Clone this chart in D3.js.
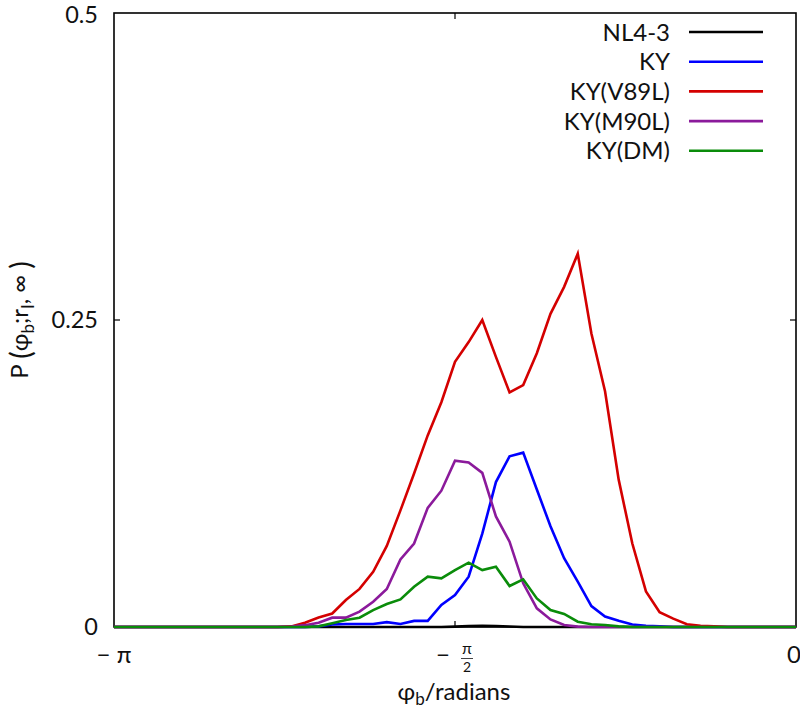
<!DOCTYPE html>
<html>
<head>
<meta charset="utf-8">
<script src="https://cdn.jsdelivr.net/npm/d3@7"></script>
<style>
  html, body { margin: 0; padding: 0; background: #fff; }
  svg { display: block; }
  text { font-family: Lato, "Open Sans", sans-serif; fill: #111; }
</style>
</head>
<body>
<svg id="chart" width="800" height="714"></svg>
<script>
// ---- data ----
// bin positions, in units of pi (phi_b / pi)
const phiOverPi = [-1.00,-0.98,-0.96,-0.94,-0.92,-0.90,-0.88,-0.86,-0.84,-0.82,
                   -0.80,-0.78,-0.76,-0.74,-0.72,-0.70,-0.68,-0.66,-0.64,-0.62,
                   -0.60,-0.58,-0.56,-0.54,-0.52,-0.50,-0.48,-0.46,-0.44,-0.42,
                   -0.40,-0.38,-0.36,-0.34,-0.32,-0.30,-0.28,-0.26,-0.24,-0.22,
                   -0.20,-0.18,-0.16,-0.14,-0.12,-0.10,-0.08,-0.06,-0.04,-0.02, 0.00];

const seriesNames = ["NL4-3", "KY", "KY(V89L)", "KY(M90L)", "KY(DM)"];

const valNL43 = [0,0,0,0,0,0,0,0,0,0, 0,0,0,0,0,0,0,0,0,0,
                 0,0,0,0,0,0.0003,0.0008,0.001,0.0008,0.0004,
                 0,0,0,0,0,0,0,0,0,0, 0,0,0,0,0,0,0,0,0,0,0];

const valKY = [0,0,0,0,0,0,0,0,0,0, 0,0,0,0,0,0.0005,0.002,0.0025,0.0025,0.0025,
               0.004,0.0025,0.005,0.005,0.018,0.026,0.041,0.076,0.118,0.139,
               0.142,0.112,0.082,0.056,0.037,0.017,0.0085,0.005,0.002,0.001,
               0.0005,0,0,0,0,0,0,0,0,0,0];

const valV89L = [0,0,0,0,0,0,0,0,0,0, 0,0,0,0.0005,0.0035,0.0078,0.011,0.022,0.031,0.045,
                 0.066,0.095,0.125,0.156,0.183,0.216,0.232,0.250,0.220,0.191,
                 0.197,0.223,0.255,0.277,0.304,0.239,0.192,0.120,0.068,0.029,
                 0.012,0.0068,0.0023,0.001,0.0005,0,0,0,0,0,0];

const valM90L = [0,0,0,0,0,0,0,0,0,0, 0,0,0,0.0003,0.0015,0.0035,0.0076,0.0076,0.0125,0.0206,
                 0.031,0.055,0.068,0.097,0.111,0.1355,0.134,0.1255,0.090,0.0695,
                 0.0356,0.0152,0.0062,0.0016,0.0003,0,0,0,0,0,
                 0,0,0,0,0,0,0,0,0,0,0];

const valDM = [0,0,0,0,0,0,0,0,0,0, 0,0,0,0,0,0.0005,0.003,0.0057,0.0076,0.0138,
               0.0187,0.0225,0.0328,0.041,0.0396,0.0464,0.0524,0.0464,0.049,0.0334,
               0.0388,0.0233,0.0138,0.0106,0.0043,0.0022,0.0016,0.0005,0,0,
               0,0,0,0,0,0,0,0,0,0,0];

const seriesValues = [valNL43, valKY, valV89L, valM90L, valDM];
const seriesColors = ["#000000", "#0000ff", "#d40000", "#8b1a9b", "#0a8c0a"];

const yTickValues = [0, 0.25, 0.5];
const yTickLabels = ["0", "0.25", "0.5"];
const xTickValues = [-Math.PI, -Math.PI / 2, 0];

// ---- layout ----
const svg = d3.select("#chart");
const L = 114, R = 796, T = 13, B = 627;

const x = d3.scaleLinear().domain([-Math.PI, 0]).range([L, R]);
const y = d3.scaleLinear().domain([0, 0.5]).range([B, T]);

// frame
svg.append("rect")
  .attr("x", L).attr("y", T).attr("width", R - L).attr("height", B - T)
  .attr("fill", "none").attr("stroke", "#000").attr("stroke-width", 1.6);

// ticks (inward, mirrored)
const tickLen = 6;
const g = svg.append("g");
[0.25].forEach(v => {
  g.append("line").attr("x1", L).attr("x2", L + tickLen).attr("y1", y(v)).attr("y2", y(v)).attr("stroke", "#000").attr("stroke-width", 1.2);
  g.append("line").attr("x1", R).attr("x2", R - tickLen).attr("y1", y(v)).attr("y2", y(v)).attr("stroke", "#000").attr("stroke-width", 1.2);
});
[-Math.PI / 2].forEach(v => {
  g.append("line").attr("x1", x(v)).attr("x2", x(v)).attr("y1", B).attr("y2", B - tickLen).attr("stroke", "#000").attr("stroke-width", 1.2);
  g.append("line").attr("x1", x(v)).attr("x2", x(v)).attr("y1", T).attr("y2", T + tickLen).attr("stroke", "#000").attr("stroke-width", 1.2);
});

// y tick labels
yTickValues.forEach((v, i) => {
  svg.append("text")
    .attr("x", L - 16).attr("y", Math.max(y(v) + 8, 23))
    .attr("text-anchor", "end").attr("font-size", 23.5)
    .text(yTickLabels[i]);
});

// x tick labels
const xl = svg.append("g").attr("font-size", 24);
xl.append("text").attr("x", x(xTickValues[0])).attr("y", 663)
  .attr("text-anchor", "middle").text("\u2212 \u03c0");
// -pi/2 as a stacked fraction
const xm = x(xTickValues[1]);
xl.append("text").attr("x", xm - 12).attr("y", 663).attr("text-anchor", "middle").text("\u2212");
xl.append("text").attr("x", xm + 12).attr("y", 654).attr("text-anchor", "middle").attr("font-size", 16).text("\u03c0");
xl.append("line").attr("x1", xm + 6).attr("x2", xm + 18).attr("y1", 658.5).attr("y2", 658.5).attr("stroke", "#111").attr("stroke-width", 0.8);
xl.append("text").attr("x", xm + 12).attr("y", 672).attr("text-anchor", "middle").attr("font-size", 14).text("2");
xl.append("text").attr("x", x(xTickValues[2]) - 2).attr("y", 663)
  .attr("text-anchor", "middle").text("0");

// axis titles
const xt = svg.append("text").attr("x", 454).attr("y", 700).attr("text-anchor", "middle").attr("font-size", 24);
xt.append("tspan").text("\u03c6");
xt.append("tspan").attr("font-size", 17).attr("dy", 5).text("b");
xt.append("tspan").attr("dy", -5).text("/radians");

const yt = svg.append("text").attr("transform", "translate(28,320) rotate(-90)")
  .attr("text-anchor", "middle").attr("font-size", 24);
yt.append("tspan").text("P ");
yt.append("tspan").attr("font-size", 28).attr("dy", 3).text("(");
yt.append("tspan").attr("dy", -3).text("\u03c6");
yt.append("tspan").attr("font-size", 17).attr("dy", 6).text("b");
yt.append("tspan").attr("dy", -6).text(";r");
yt.append("tspan").attr("font-size", 17).attr("dy", 6).text("I");
yt.append("tspan").attr("dy", -6).text(", \u221e ");
yt.append("tspan").attr("font-size", 28).attr("dy", 3).text(")");

// lines
const line = d3.line()
  .x((d, i) => x(phiOverPi[i] * Math.PI))
  .y(d => y(d));

const clip = svg.append("clipPath").attr("id", "plotclip");
clip.append("rect").attr("x", L).attr("y", T - 2).attr("width", R - L).attr("height", B - T + 4);

const lines = svg.append("g").attr("clip-path", "url(#plotclip)");
seriesValues.forEach((vals, i) => {
  lines.append("path")
    .attr("d", line(vals))
    .attr("fill", "none")
    .attr("stroke", seriesColors[i])
    .attr("stroke-width", 2.6)
    .attr("stroke-linejoin", "miter");
});

// legend
const legend = svg.append("g");
const legY0 = 32, legDy = 29.7;
seriesNames.forEach((name, i) => {
  const ly = legY0 + i * legDy;
  legend.append("text").attr("x", 670).attr("y", ly + 8.5)
    .attr("text-anchor", "end").attr("font-size", 24).text(name);
  legend.append("line").attr("x1", 689).attr("x2", 763).attr("y1", ly).attr("y2", ly)
    .attr("stroke", seriesColors[i]).attr("stroke-width", 2.6);
});
</script>
</body>
</html>
